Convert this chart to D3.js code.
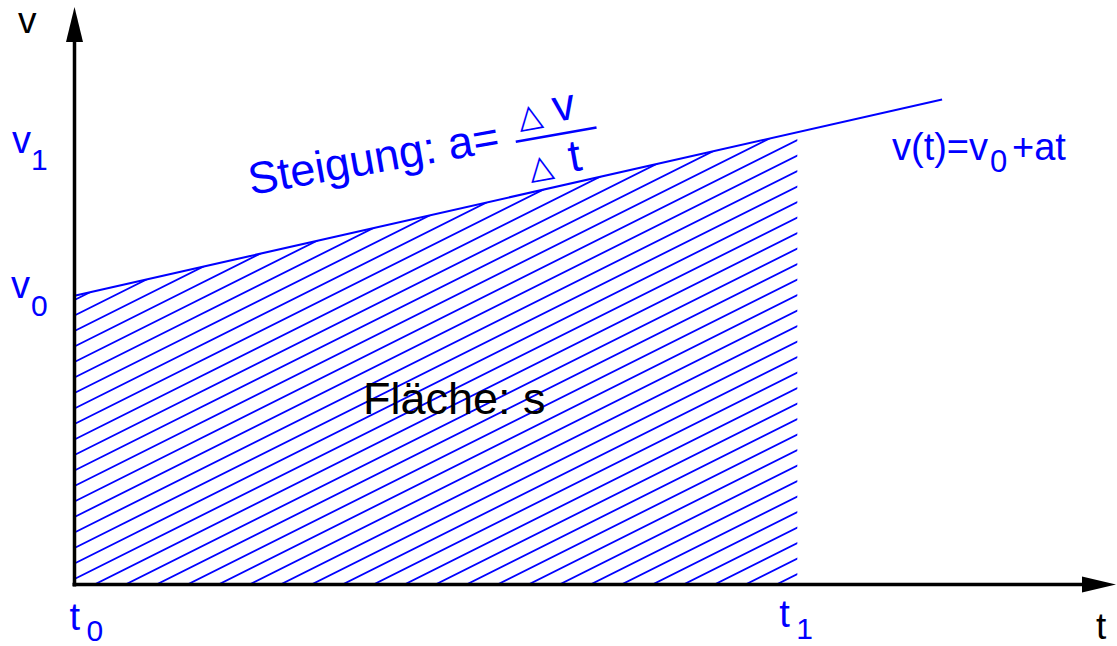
<!DOCTYPE html>
<html>
<head>
<meta charset="utf-8">
<script src="https://cdn.jsdelivr.net/npm/d3@7"></script>
<style>
  html, body { margin: 0; padding: 0; background: #fff; }
  svg { display: block; }
  text { font-family: "Liberation Sans", Arial, Helvetica, sans-serif; }
</style>
</head>
<body>
<svg id="chart" width="1117" height="646"></svg>
<script>
// ---- data (schematic units) ----
const lineT = [0, 8.33];          // start / end of v(t) line
const lineV = [5.0, 8.40];
const areaT = [0, 6.94];          // t0, t1 (shaded area bounds)
const areaV = [5.0, 7.83];        // v0, v1
const axisLabels = ["v", "t"];
const tickMain = ["t", "t", "v", "v"];
const tickSubs = ["0", "1", "0", "1"];
const formulaParts = ["v(t)=v", "0", "+at"];
const slopeParts = ["Steigung: a=", "\u25B3", "v", "\u25B3", "t"];
const areaLabel = "Fläche: s";

const W = 1117, H = 646;
const blue = "#0000ff";
const svg = d3.select("#chart");

const x = d3.scaleLinear().domain([0, 10]).range([74.5, 1116]);
const y = d3.scaleLinear().domain([0, 10]).range([584.5, 7]);

// ---- shaded area with hatch ----
const areaData = areaT.map((t, i) => ({t, v: areaV[i]}));
const areaGen = d3.area().x(d => x(d.t)).y0(y(0)).y1(d => y(d.v));
svg.append("defs").append("clipPath").attr("id", "clipArea")
  .append("path").attr("d", areaGen(areaData));

const hatchStep = 15.5, hatchSlope = 0.5, hatchStart = 300;
const hatch = svg.append("g").attr("clip-path", "url(#clipArea)");
const xl = x(areaT[0]), xr = x(areaT[1]) + 2;
for (let k = -5; k < 50; k++) {
  const y0 = hatchStart + k * hatchStep;
  hatch.append("line")
    .attr("x1", xl).attr("y1", y0)
    .attr("x2", xr).attr("y2", y0 - hatchSlope * (xr - xl))
    .attr("stroke", blue).attr("stroke-width", 1.8);
}

// ---- v(t) line ----
const lineData = lineT.map((t, i) => ({t, v: lineV[i]}));
svg.append("path")
  .attr("d", d3.line().x(d => x(d.t)).y(d => y(d.v))(lineData))
  .attr("fill", "none").attr("stroke", blue).attr("stroke-width", 2);

// ---- axes ----
const xAxis = d3.axisBottom(x).tickValues([]).tickSizeOuter(0);
const yAxis = d3.axisLeft(y).tickValues([]).tickSizeOuter(0);
const gx = svg.append("g").attr("transform", `translate(0,${y(0)})`).call(xAxis);
const gy = svg.append("g").attr("transform", `translate(${x(0)},0)`).call(yAxis);
[gx, gy].forEach(g => g.select(".domain").attr("stroke", "#000").attr("stroke-width", 3.5));
gx.select(".domain").attr("d", `M${x(0) - 2},0H${x(10) - 20}`);
gy.select(".domain").attr("d", `M0,${y(0) + 2}V${y(10) + 20}`);

// arrowheads
svg.append("path")
  .attr("d", `M${x(0)},${y(10)} L${x(0) - 8.5},${y(10) + 35} L${x(0) + 8.5},${y(10) + 35} Z`)
  .attr("fill", "#000");
svg.append("path")
  .attr("d", `M${x(10)},${y(0)} L${x(10) - 34},${y(0) - 8} L${x(10) - 34},${y(0) + 8} Z`)
  .attr("fill", "#000");

// axis labels
svg.append("text").attr("x", 18).attr("y", 33).attr("font-size", 37).attr("fill", "#000").text(axisLabels[0]);
svg.append("text").attr("x", 1096).attr("y", 639).attr("font-size", 37).attr("fill", "#000").text(axisLabels[1]);

// tick-like labels with subscripts
function subLabel(mx, my, sx, sy, main, sub) {
  const t = svg.append("text").attr("fill", blue);
  t.append("tspan").attr("x", mx).attr("y", my).attr("font-size", 38).text(main);
  t.append("tspan").attr("x", sx).attr("y", sy).attr("font-size", 30).text(sub);
}
// t0, t1 under x axis
subLabel(x(areaT[0]) - 5, 630, x(areaT[0]) + 12, 641, tickMain[0], tickSubs[0]);
subLabel(x(areaT[1]) - 18, 627, x(areaT[1]) - 1, 639, tickMain[1], tickSubs[1]);
// v0, v1 left of y axis
subLabel(11, y(areaV[0]) + 2, 31, y(areaV[0]) + 20, tickMain[2], tickSubs[2]);
subLabel(12, y(areaV[1]) + 21, 31, y(areaV[1]) + 38, tickMain[3], tickSubs[3]);

// formula v(t)=v0+at
const ft = svg.append("text").attr("fill", blue);
ft.append("tspan").attr("x", 892).attr("y", 160).attr("font-size", 38).text(formulaParts[0]);
ft.append("tspan").attr("x", 990).attr("y", 172).attr("font-size", 31).text(formulaParts[1]);
ft.append("tspan").attr("x", 1012).attr("y", 160).attr("font-size", 38).text(formulaParts[2]);

// slope label (rotated)
const sg = svg.append("g").attr("transform", "translate(251,195) rotate(-10)").attr("fill", blue);
sg.append("text").attr("x", 0).attr("y", 0).attr("font-size", 45).text(slopeParts[0]);
sg.append("line").attr("x1", 270).attr("y1", -6.5).attr("x2", 352).attr("y2", -6.5)
  .attr("stroke", blue).attr("stroke-width", 2.5);
sg.append("text").attr("x", 276).attr("y", -19).attr("font-size", 32)
  .style("font-family", "'DejaVu Sans', sans-serif").text(slopeParts[1]);
sg.append("text").attr("x", 312).attr("y", -19).attr("font-size", 45).text(slopeParts[2]);
sg.append("text").attr("x", 278).attr("y", 33).attr("font-size", 32)
  .style("font-family", "'DejaVu Sans', sans-serif").text(slopeParts[3]);
sg.append("text").attr("x", 319).attr("y", 33).attr("font-size", 45).text(slopeParts[4]);

// area label
svg.append("text").attr("x", 363).attr("y", 414).attr("font-size", 45).attr("fill", "#000").text(areaLabel);
</script>
</body>
</html>
